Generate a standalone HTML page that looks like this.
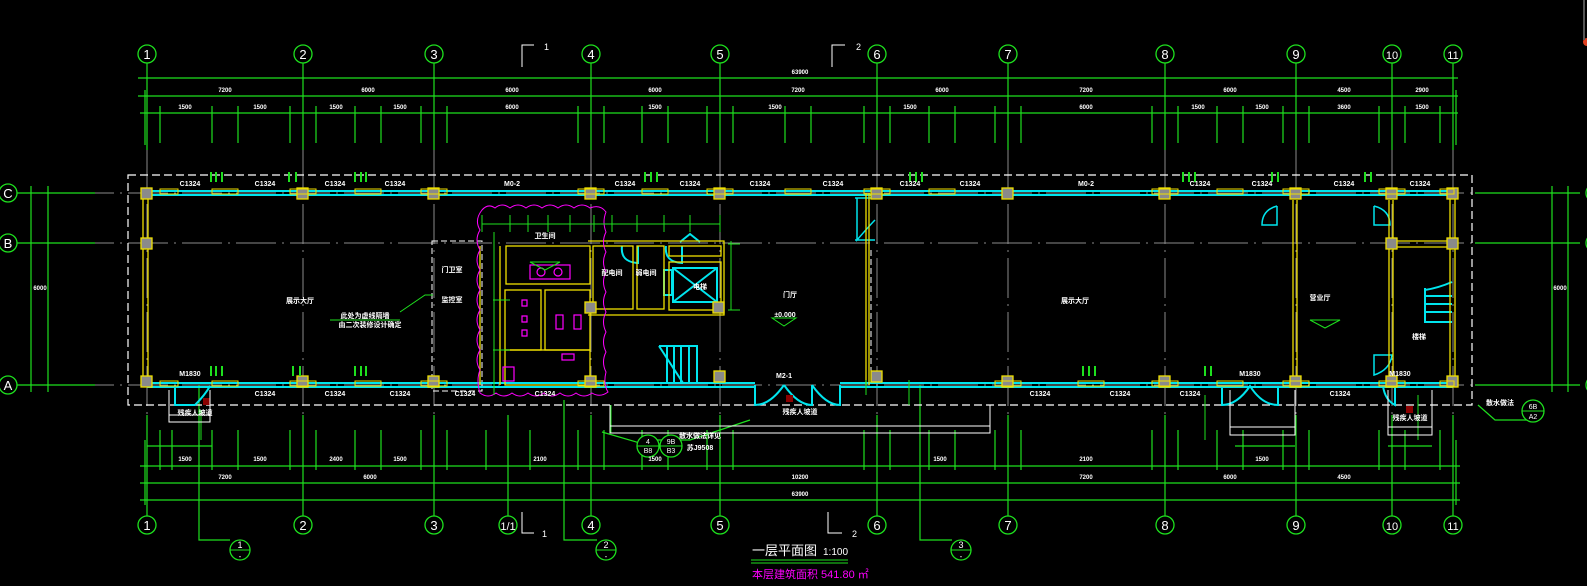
<!DOCTYPE html>
<html><head><meta charset="utf-8"><style>
html,body{margin:0;padding:0;background:#000;width:1587px;height:586px;overflow:hidden}
svg{display:block}
text{font-family:"Liberation Sans","Noto Sans CJK SC",sans-serif;fill:#fff}
.ax{font-size:13px;fill:#fff;text-anchor:middle}
.d{font-size:6px;fill:#fff;text-anchor:middle;font-weight:bold}
.w{font-size:7px;fill:#fff;text-anchor:middle;font-weight:bold}
</style></head><body>
<svg width="1587" height="586" viewBox="0 0 1587 586" xmlns="http://www.w3.org/2000/svg">
<!-- gray grid lines -->
<g stroke="#8a8a8a" stroke-width="1" stroke-dasharray="40,6,2,6" fill="none">
<path d="M147 150V430M303 150V430M434 150V430M591 150V430M720 150V430M877 150V430M1008 150V430M1165 150V430M1296 150V430M1392 150V430M1453 150V430"/>
<path d="M20 193H1580M20 243H1580M20 385H1580"/>
</g>
<!-- green axis leaders top -->
<g stroke="#1ee01e" stroke-width="1.2" fill="none">
<path d="M147 63V150M303 63V150M434 63V150M591 63V150M720 63V150M877 63V150M1008 63V150M1165 63V150M1296 63V150M1392 63V150M1453 63V150"/>
<path d="M138 78H1458M138 96H1458M140 113H1458"/>
<path d="M145 90V145M1456 90V145"/>
<path d="M160 106V143M212 106V143M238 106V143M290 106V143M316 106V143M355 106V143M381 106V143M421 106V143M447 106V143M578 106V143M604 106V143M642 106V143M668 106V143M707 106V143M733 106V143M785 106V143M811 106V143M864 106V143M890 106V143M929 106V143M955 106V143M995 106V143M1021 106V143M1152 106V143M1178 106V143M1217 106V143M1243 106V143M1283 106V143M1309 106V143M1379 106V143M1405 106V143M1440 106V143"/>
<!-- bottom -->
<path d="M147 415V516M303 415V516M434 415V516M508 415V516M591 415V516M720 415V516M877 415V516M1008 415V516M1165 415V516M1296 415V516M1392 415V516M1453 415V516"/>
<path d="M140 466H1460M140 483H1460M140 500H1460"/>
<path d="M145 440V505M1456 440V505"/>
<path d="M147 446H212M1235 446H1295M1388 446H1432"/>
<path d="M160 430V470M172 430V470M212 430V470M238 430V470M290 430V470M316 430V470M355 430V470M381 430V470M421 430V470M447 430V470M486 430V470M530 430V470M578 430V470M604 430V470M642 430V470M668 430V470M707 430V470M733 430V470M864 430V470M890 430V470M929 430V470M955 430V470M995 430V470M1021 430V470M1152 430V470M1178 430V470M1217 430V470M1243 430V470M1283 430V470M1309 430V470M1379 430V470M1405 430V470M1440 430V470"/>
<!-- left dims -->
<path d="M31 186V392M48 186V392M17 193H95M17 243H95M17 385H95"/>
<!-- right dims -->
<path d="M1552 186V392M1568 186V392M1475 193H1580M1475 243H1580M1475 385H1580"/>
<!-- section callouts -->
<path d="M199 385V540H230M564 400V540H597M920 385V540H952"/>
<path d="M1478 405L1495 420H1528M602 432L650 446"/>
<path d="M750 420L690 440H640"/>
</g>
<!-- axis circles -->
<g stroke="#1ee01e" stroke-width="1.3" fill="#000">
<circle cx="147" cy="54" r="9"/><circle cx="303" cy="54" r="9"/><circle cx="434" cy="54" r="9"/><circle cx="591" cy="54" r="9"/><circle cx="720" cy="54" r="9"/><circle cx="877" cy="54" r="9"/><circle cx="1008" cy="54" r="9"/><circle cx="1165" cy="54" r="9"/><circle cx="1296" cy="54" r="9"/><circle cx="1392" cy="54" r="9"/><circle cx="1453" cy="54" r="9"/>
<circle cx="147" cy="525" r="9"/><circle cx="303" cy="525" r="9"/><circle cx="434" cy="525" r="9"/><circle cx="508" cy="525" r="9"/><circle cx="591" cy="525" r="9"/><circle cx="720" cy="525" r="9"/><circle cx="877" cy="525" r="9"/><circle cx="1008" cy="525" r="9"/><circle cx="1165" cy="525" r="9"/><circle cx="1296" cy="525" r="9"/><circle cx="1392" cy="525" r="9"/><circle cx="1453" cy="525" r="9"/>
<circle cx="8" cy="193" r="9"/><circle cx="8" cy="243" r="9"/><circle cx="8" cy="385" r="9"/>
<circle cx="1595" cy="193" r="9"/><circle cx="1595" cy="243" r="9"/><circle cx="1595" cy="385" r="9"/>
<circle cx="240" cy="550" r="10"/><circle cx="606" cy="550" r="10"/><circle cx="961" cy="550" r="10"/>
<circle cx="1533" cy="411" r="11"/>
<circle cx="648" cy="446" r="11"/><circle cx="671" cy="446" r="11"/>
</g>
<g stroke="#1ee01e" stroke-width="1"><path d="M230 550H250M596 550H616M951 550H971M1522 411H1544M637 446H682"/></g>
<g class="ax">
<text x="147" y="59">1</text><text x="303" y="59">2</text><text x="434" y="59">3</text><text x="591" y="59">4</text><text x="720" y="59">5</text><text x="877" y="59">6</text><text x="1008" y="59">7</text><text x="1165" y="59">8</text><text x="1296" y="59">9</text><text x="1392" y="59" style="font-size:11px">10</text><text x="1453" y="59" style="font-size:11px">11</text>
<text x="147" y="530">1</text><text x="303" y="530">2</text><text x="434" y="530">3</text><text x="508" y="530" style="font-size:11px">1/1</text><text x="591" y="530">4</text><text x="720" y="530">5</text><text x="877" y="530">6</text><text x="1008" y="530">7</text><text x="1165" y="530">8</text><text x="1296" y="530">9</text><text x="1392" y="530" style="font-size:11px">10</text><text x="1453" y="530" style="font-size:11px">11</text>
<text x="8" y="198">C</text><text x="8" y="248">B</text><text x="8" y="390">A</text>
<text x="240" y="548" style="font-size:9px">1</text><text x="606" y="548" style="font-size:9px">2</text><text x="961" y="548" style="font-size:9px">3</text>
<text x="240" y="559" style="font-size:8px">-</text><text x="606" y="559" style="font-size:8px">-</text><text x="961" y="559" style="font-size:8px">-</text>
<text x="1533" y="409" style="font-size:7px">6B</text><text x="1533" y="419" style="font-size:7px">A2</text>
<text x="648" y="444" style="font-size:7px">4</text><text x="648" y="453" style="font-size:7px">B8</text><text x="671" y="444" style="font-size:7px">9B</text><text x="671" y="453" style="font-size:7px">B3</text>
</g>
<!-- section marks -->
<g stroke="#fff" stroke-width="1" fill="none"><path d="M534 45H522V67M845 45H832V67M522 512V533H534M828 512V533H842"/></g>
<text x="544" y="50" style="font-size:9px">1</text><text x="856" y="50" style="font-size:9px">2</text>
<text x="542" y="537" style="font-size:9px">1</text><text x="852" y="537" style="font-size:9px">2</text>
<!-- dim text -->
<g class="d">
<text x="225" y="92">7200</text><text x="368" y="92">6000</text><text x="512" y="92">6000</text><text x="655" y="92">6000</text><text x="798" y="92">7200</text><text x="942" y="92">6000</text><text x="1086" y="92">7200</text><text x="1230" y="92">6000</text><text x="1344" y="92">4500</text><text x="1422" y="92">2900</text><text x="800" y="74">63900</text>
<text x="185" y="109">1500</text><text x="260" y="109">1500</text><text x="336" y="109">1500</text><text x="400" y="109">1500</text><text x="512" y="109">6000</text><text x="655" y="109">1500</text><text x="775" y="109">1500</text><text x="910" y="109">1500</text><text x="1086" y="109">6000</text><text x="1198" y="109">1500</text><text x="1262" y="109">1500</text><text x="1344" y="109">3600</text><text x="1422" y="109">1500</text>
<text x="800" y="479">10200</text><text x="225" y="479">7200</text><text x="370" y="479">6000</text><text x="1086" y="479">7200</text><text x="1230" y="479">6000</text><text x="1344" y="479">4500</text>
<text x="800" y="496">63900</text><text x="185" y="461">1500</text><text x="260" y="461">1500</text><text x="336" y="461">2400</text><text x="400" y="461">1500</text><text x="540" y="461">2100</text><text x="655" y="461">1500</text><text x="940" y="461">1500</text><text x="1086" y="461">2100</text><text x="1262" y="461">1500</text>
<text x="40" y="290">6000</text><text x="1560" y="290">6000</text>
</g>
<!-- building outline dashed -->
<rect x="128" y="175" width="1344" height="230" fill="none" stroke="#fff" stroke-width="1.2" stroke-dasharray="8,4"/>
<rect x="432" y="241" width="50" height="150" fill="none" stroke="#fff" stroke-width="1" stroke-dasharray="6,3"/>
<path d="M871 250V380" stroke="#fff" stroke-dasharray="6,3" fill="none"/>
<!-- cyan walls -->
<g stroke="#00e5ee" stroke-width="2" fill="none">
<path d="M147 191H1453M147 195H1453"/>
<path d="M147 383H755M147 387H755M840 383H1453M840 387H1453"/>
<!-- doors -->
<path d="M755 385V405Q770 405 784 385M784 385Q798 405 812 405V385M840 385V405Q826 405 812 385"/>
<path d="M175 386V405H195Q205 395 210 386M1222 386V405Q1237 405 1250 386Q1262 405 1278 405V386M1395 386V405Q1385 400 1383 386"/>
<path d="M855 198H875M855 240H875M857 198V240Q870 225 875 220" stroke-width="1.5"/>
<path d="M1277 206V225H1262Q1262 210 1277 206M1374 206V225H1390Q1390 210 1374 206M1374 355V375Q1390 370 1392 355Z" stroke-width="1.5"/>
<!-- stairs -->
<path d="M659 346H697V383M659 346L683 383M667 346V383M674 346V383M681 346V383M689 346V383"/>
<path d="M1425 288V322H1452M1425 296H1452M1425 304H1452M1425 312H1452M1425 290Q1438 288 1452 282"/>
<!-- elevator -->
<rect x="673" y="268" width="44" height="34"/><path d="M673 268L717 302M717 268L673 302"/><rect x="664" y="270" width="8" height="25"/>
<path d="M622 246Q620 262 638 263V246M666 246Q664 262 682 263V246M680 242L690 234L700 242"/>
</g>
<!-- yellow walls & columns -->
<g stroke="#f0e000" stroke-width="1.3" fill="none">
<path d="M143 193V385M148 193V385M1450 193V385M1455 193V385"/>
<path d="M1293 200V380M1297 200V380M1389 200V380M1393 200V380M1390 241H1452M1390 247H1452"/>
<!-- core -->
<rect x="506" y="246" width="84" height="38"/><rect x="505" y="290" width="36" height="60"/><rect x="545" y="290" width="45" height="60"/><rect x="505" y="350" width="85" height="35"/>
<path d="M500 246V385M480 246V385"/>
<rect x="593" y="246" width="40" height="63"/><rect x="637" y="246" width="27" height="63"/><rect x="669" y="246" width="52" height="10"/><rect x="669" y="262" width="52" height="48"/>
<path d="M588 241H724V315H588M724 241V315"/>
<path d="M866 193V385M869 193V385"/>
</g>
<g stroke="#f0e000" stroke-width="1.3" fill="#8a8a8a">
<rect x="141" y="188" width="11" height="11"/><rect x="297" y="188" width="11" height="11"/><rect x="428" y="188" width="11" height="11"/><rect x="585" y="188" width="11" height="11"/><rect x="714" y="188" width="11" height="11"/><rect x="871" y="188" width="11" height="11"/><rect x="1002" y="188" width="11" height="11"/><rect x="1159" y="188" width="11" height="11"/><rect x="1290" y="188" width="11" height="11"/><rect x="1386" y="188" width="11" height="11"/><rect x="1447" y="188" width="11" height="11"/>
<rect x="141" y="238" width="11" height="11"/><rect x="1386" y="238" width="11" height="11"/><rect x="1447" y="238" width="11" height="11"/>
<rect x="141" y="376" width="11" height="11"/><rect x="297" y="376" width="11" height="11"/><rect x="428" y="376" width="11" height="11"/><rect x="585" y="376" width="11" height="11"/><rect x="714" y="371" width="11" height="11"/><rect x="871" y="371" width="11" height="11"/><rect x="1002" y="376" width="11" height="11"/><rect x="1159" y="376" width="11" height="11"/><rect x="1290" y="376" width="11" height="11"/><rect x="1386" y="376" width="11" height="11"/><rect x="1447" y="376" width="11" height="11"/>
<rect x="585" y="302" width="11" height="11"/><rect x="713" y="302" width="11" height="11"/>
</g>
<!-- window frames -->
<g stroke="#f0e000" stroke-width="1" fill="none">
<path d="M160 189h18v5h-18zM212 189h26v5h-26zM290 189h26v5h-26zM355 189h26v5h-26zM421 189h26v5h-26zM578 189h26v5h-26zM642 189h26v5h-26zM707 189h26v5h-26zM785 189h26v5h-26zM864 189h26v5h-26zM929 189h26v5h-26zM1152 189h26v5h-26zM1217 189h26v5h-26zM1283 189h26v5h-26zM1379 189h26v5h-26zM1440 189h14v5h-14z"/>
<path d="M160 381h18v5h-18zM212 381h26v5h-26zM290 381h26v5h-26zM355 381h26v5h-26zM421 381h26v5h-26zM578 381h26v5h-26zM995 381h26v5h-26zM1078 381h26v5h-26zM1152 381h26v5h-26zM1217 381h26v5h-26zM1283 381h26v5h-26zM1379 381h26v5h-26zM1440 381h14v5h-14z"/>
</g>
<!-- green window marks -->
<g stroke="#1ee01e" stroke-width="2"><path d="M211 172V182M216 172V182M222 172V182M289 172V182M296 172V182M355 172V182M361 172V182M366 172V182M645 172V182M651 172V182M657 172V182M910 172V182M916 172V182M922 172V182M1183 172V182M1189 172V182M1195 172V182M1272 172V182M1278 172V182M1365 172V182M1371 172V182M211 366V376M216 366V376M222 366V376M293 366V376M300 366V376M355 366V376M361 366V376M366 366V376M1083 366V376M1089 366V376M1095 366V376M1205 366V376M1211 366V376"/></g>
<!-- magenta cloud -->
<path d="M482 210Q488 203 495 208Q502 202 510 208Q518 202 526 208Q534 202 542 208Q550 202 558 208Q566 202 574 208Q582 202 590 208Q600 204 606 212Q602 222 606 232Q601 242 606 252Q601 262 606 272Q601 282 606 292Q601 302 606 312Q601 322 606 332Q601 342 606 352Q601 362 606 372Q603 384 608 392Q600 398 592 393Q584 399 576 393Q568 399 560 393Q552 399 544 393Q536 399 528 393Q520 399 512 393Q504 399 496 393Q488 399 480 393Q476 380 480 370Q474 360 480 350Q474 340 480 330Q474 320 480 310Q474 300 480 290Q474 280 480 270Q474 260 480 250Q474 240 480 230Q474 220 482 210Z" fill="none" stroke="#ff00ff" stroke-width="1"/>
<g stroke="#ff00ff" stroke-width="1.2" fill="none">
<rect x="530" y="265" width="40" height="14"/><circle cx="541" cy="272" r="4"/><circle cx="558" cy="272" r="4"/>
<rect x="556" y="315" width="7" height="14"/><rect x="574" y="315" width="7" height="14"/><rect x="562" y="354" width="12" height="6"/>
<rect x="503" y="367" width="11" height="14"/><path d="M522 300h5v6h-5zM522 316h5v6h-5zM522 330h5v6h-5z"/>
</g>
<!-- green dim lines in core & misc -->
<g stroke="#1ee01e" stroke-width="1" fill="none">
<path d="M482 224H720M482 215V232M510 215V232M528 215V232M548 215V232M570 215V232M594 215V232M612 215V232M637 215V232M664 215V232M690 215V232M720 215V232"/>
<path d="M494 232V395M493 300H510M493 350H510M731 241V310M728 244H740M728 310H740"/>
<path d="M400 312L425 295H433M330 320H400"/>
<path d="M772 318H796L784 326Z M530 262H560L545 270Z M1310 320H1340L1325 328Z"/>
<path d="M866 380V395M909 380V405M611 405V433M201 410V440M1205 395V440M1418 395V440"/>
</g>
<!-- red markers -->
<rect x="203" y="398" width="7" height="7" fill="#8b0000"/><rect x="786" y="395" width="7" height="7" fill="#8b0000"/><rect x="1406" y="406" width="7" height="7" fill="#8b0000"/>
<!-- entrance -->
<g stroke="#fff" stroke-width="1" fill="none">
<path d="M610 405V433H990V405M610 426H990"/>
<path d="M1230 390V435H1295V390M1230 427H1295M1388 390V435H1432V390M1388 427H1432M169 390V422H210V390M169 415H210"/>
</g>
<!-- room labels -->
<g class="w">
<text x="300" y="303">展示大厅</text><text x="1075" y="303">展示大厅</text><text x="1320" y="300">营业厅</text><text x="790" y="297">门厅</text><text x="785" y="317">±0.000</text>
<text x="545" y="238">卫生间</text><text x="612" y="275">配电间</text><text x="646" y="275">弱电间</text><text x="700" y="289">电梯</text><text x="452" y="272">门卫室</text><text x="452" y="302">监控室</text><text x="1419" y="339">楼梯</text>
<text x="800" y="414">残疾人坡道</text><text x="195" y="415">残疾人坡道</text><text x="1410" y="420">残疾人坡道</text>
<text x="365" y="318">此处为虚线隔墙</text><text x="370" y="327">由二次装修设计确定</text>
<text x="700" y="438">散水做法详见</text><text x="700" y="450">苏J9508</text><text x="1500" y="405">散水做法</text>
<text x="190" y="186">C1324</text><text x="265" y="186">C1324</text><text x="335" y="186">C1324</text><text x="395" y="186">C1324</text><text x="512" y="186">M0-2</text><text x="625" y="186">C1324</text><text x="690" y="186">C1324</text><text x="760" y="186">C1324</text><text x="833" y="186">C1324</text><text x="910" y="186">C1324</text><text x="970" y="186">C1324</text><text x="1086" y="186">M0-2</text><text x="1200" y="186">C1324</text><text x="1262" y="186">C1324</text><text x="1344" y="186">C1324</text><text x="1420" y="186">C1324</text>
<text x="265" y="396">C1324</text><text x="335" y="396">C1324</text><text x="400" y="396">C1324</text><text x="465" y="396">C1324</text><text x="545" y="396">C1324</text><text x="784" y="378">M2-1</text><text x="1040" y="396">C1324</text><text x="1120" y="396">C1324</text><text x="1190" y="396">C1324</text><text x="1250" y="376">M1830</text><text x="1340" y="396">C1324</text><text x="1400" y="376">M1830</text><text x="190" y="376">M1830</text>
</g>
<!-- title -->
<text x="752" y="555" style="font-size:13px">一层平面图</text>
<text x="823" y="555" style="font-size:10px">1:100</text>
<path d="M751 560H848M751 563H848" stroke="#1ee01e" stroke-width="1"/>
<text x="752" y="578" style="font-size:11px;fill:#ff00ff">本层建筑面积 541.80 ㎡</text>
<circle cx="1587" cy="42" r="4" fill="#e04020"/>
<path d="M1584 0V40" stroke="#555" stroke-width="2"/>
</svg>
</body></html>
